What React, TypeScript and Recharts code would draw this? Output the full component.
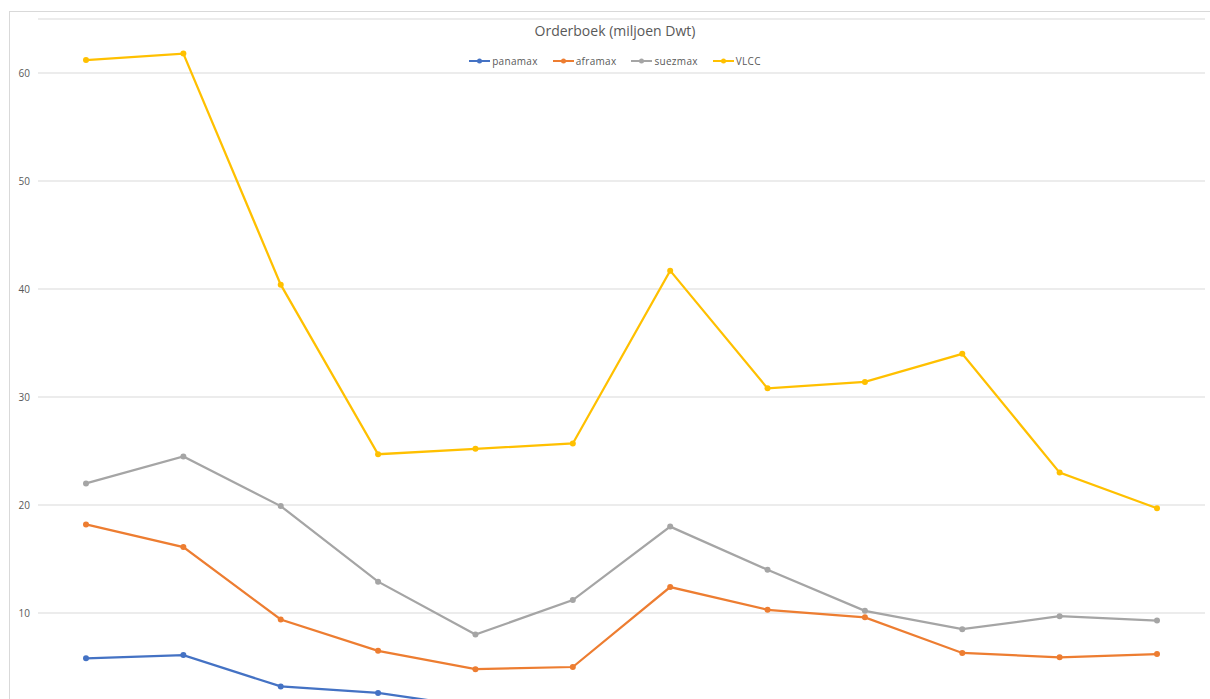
import React from 'react';
import { LineChart, Line, XAxis, YAxis, CartesianGrid, Legend } from 'recharts';

const years = ['2008', '2009', '2010', '2011', '2012', '2013', '2014', '2015', '2016', '2017', '2018', '2019'];
const panamax = [5.8, 6.1, 3.2, 2.6, 1.3, 1.1, 1.6, 1.4, 1.2, 0.9, 0.8, 0.7];
const aframax = [18.2, 16.1, 9.4, 6.5, 4.8, 5.0, 12.4, 10.3, 9.6, 6.3, 5.9, 6.2];
const suezmax = [22.0, 24.5, 19.9, 12.9, 8.0, 11.2, 18.0, 14.0, 10.2, 8.5, 9.7, 9.3];
const vlcc = [61.2, 61.8, 40.4, 24.7, 25.2, 25.7, 41.7, 30.8, 31.4, 34.0, 23.0, 19.7];
const yTicks = [10, 20, 30, 40, 50, 60];

const series = [
  { key: 'panamax', color: '#4472C4' },
  { key: 'aframax', color: '#ED7D31' },
  { key: 'suezmax', color: '#A5A5A5' },
  { key: 'VLCC', color: '#FFC000' },
];

const data = years.map((year, i) => ({
  year,
  panamax: panamax[i],
  aframax: aframax[i],
  suezmax: suezmax[i],
  VLCC: vlcc[i],
}));

const FONT = '"Open Sans", "Liberation Sans", sans-serif';

function LegendItems() {
  return (
    <div style={{ display: 'flex', justifyContent: 'center', gap: 15, fontFamily: FONT, fontSize: 10, color: '#595959' }}>
      {series.map((s) => (
        <div key={s.key} style={{ display: 'flex', alignItems: 'center' }}>
          <svg width={21} height={8} style={{ marginRight: 2 }}>
            <line x1={0} y1={4} x2={21} y2={4} stroke={s.color} strokeWidth={2} />
            <circle cx={10.5} cy={4} r={2.5} fill={s.color} />
          </svg>
          <span style={{ letterSpacing: 0.3 }}>{s.key}</span>
        </div>
      ))}
    </div>
  );
}

export default function App() {
  return (
    <div style={{ position: 'fixed', left: 0, top: 0, width: 1210, height: 699, overflow: 'hidden', background: '#fff' }}>
      <div
        style={{
          position: 'absolute',
          left: 9,
          top: 11,
          width: 1240,
          height: 780,
          border: '1px solid #d9d9d9',
          boxSizing: 'border-box',
        }}
      />
      <div
        style={{
          position: 'absolute',
          left: 0,
          top: 21,
          width: 1230,
          textAlign: 'center',
          fontFamily: FONT,
          fontSize: 14,
          color: '#595959',
        }}
      >
        Orderboek (miljoen Dwt)
      </div>
      <div style={{ position: 'absolute', left: 0, top: 0 }}>
        <LineChart width={1230} height={760} data={data} margin={{ top: 19, right: 25, bottom: 39, left: 8 }}>
          <CartesianGrid vertical={false} stroke="#d9d9d9" strokeWidth={1} />
          <XAxis dataKey="year" hide padding={{ left: 48, right: 48 }} />
          <YAxis
            domain={[0, 65]}
            ticks={yTicks}
            width={30}
            axisLine={false}
            tickLine={false}
            tick={{ fontFamily: FONT, fontSize: 10, fill: '#595959' }}
          />
          <Legend
            layout="horizontal"
            verticalAlign="middle"
            align="center"
            wrapperStyle={{ top: 54, left: 0, width: 1230 }}
            content={() => <LegendItems />}
          />
          {series.map((s) => (
            <Line
              key={s.key}
              dataKey={s.key}
              stroke={s.color}
              strokeWidth={2.25}
              dot={{ r: 3, fill: s.color, stroke: s.color, strokeWidth: 0 }}
              isAnimationActive={false}
            />
          ))}
        </LineChart>
      </div>
    </div>
  );
}
